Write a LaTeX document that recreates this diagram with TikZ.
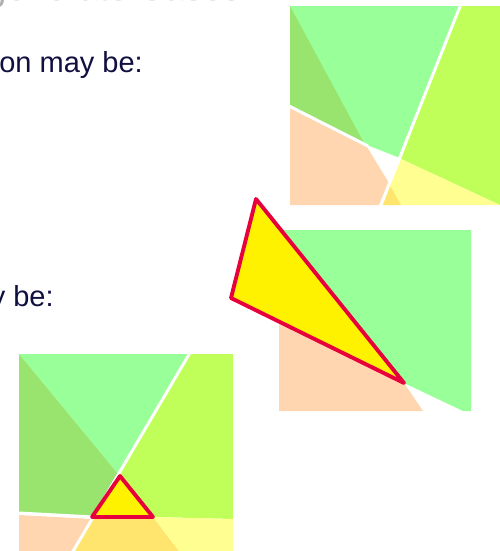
\documentclass[tikz,border=0pt]{standalone}
\definecolor{palegreen}{RGB}{153,255,153}
\definecolor{deepgreen}{RGB}{152,228,110}
\definecolor{limegreen}{RGB}{192,255,90}
\definecolor{peach}{RGB}{255,214,176}
\definecolor{paleyellow}{RGB}{255,255,145}
\definecolor{darkyellow}{RGB}{255,228,110}
\definecolor{hitred}{RGB}{230,0,60}
\definecolor{captionblue}{RGB}{16,16,64}
\definecolor{titlegray}{RGB}{175,175,175}
\usepackage{fontspec}
\setmainfont{Liberation Sans}
\usepackage{tikz}
\usetikzlibrary{positioning}

\begin{document}
\begin{tikzpicture}[x=0.02cm, y=-0.02cm,
    gap/.style={draw=white, line width=1.7pt},
    hit/.style={fill=yellow, draw=hitred, line width=2.2pt, line join=round},
    caption/.style={text=captionblue, font=\fontsize{16.5}{20}\selectfont, inner sep=0pt}]
    \useasboundingbox (0,0) rectangle (500,551);

    % Heading (cut at the top)
    \node[anchor=base east, text=titlegray, inner sep=0pt,
          font=\fontsize{20.5}{24}\selectfont] (heading) at (241,1) {Degenerate Cases};

    % Captions
    \node[caption, anchor=base west] (firstcase) at (-1,72) {on may be:};
    \node[caption, anchor=base east] (secondcase) at (54,306) {y be:};

    % Top-right cells
    \fill[limegreen] (460,6) -- (500,6) -- (500,205) -- (401,159) -- cycle;
    \fill[palegreen] (290,6) -- (461,6) -- (400,158) -- (367,145) -- (290,106) -- cycle;
    \fill[deepgreen] (290,6) -- (364,143) -- (290,106) -- cycle;
    \fill[peach] (290,108) -- (367,147) -- (389,183) -- (381,205) -- (290,205) -- cycle;
    \fill[paleyellow] (401,159) -- (500,205) -- (382,205) -- cycle;
    \fill[darkyellow] (390,186) -- (383,205) -- (401,205) -- cycle;
    \draw[gap] (461,4) -- (380,207);
    \draw[gap] (289,106) -- (368,146);

    % Middle cells with the wide triangle
    \fill[palegreen] (279,230) -- (471,230) -- (471,411) -- (463,411) -- (404,383) -- (279,320) -- cycle;
    \fill[peach] (279,320) -- (404,383) -- (423,411) -- (279,411) -- cycle;
    \filldraw[hit] (256,199) -- (231,298) -- (404,383) -- cycle;

    % Bottom-left cells with the small triangle
    \fill[palegreen] (19,354) -- (189,354) -- (118,474) -- cycle;
    \fill[deepgreen] (19,354) -- (118,474) -- (92,516) -- (19,513) -- cycle;
    \fill[limegreen] (190,354) -- (233,354) -- (233,519) -- (153,517) -- (118,474) -- cycle;
    \fill[peach] (19,515) -- (92,519) -- (74,551) -- (19,551) -- cycle;
    \fill[darkyellow] (92,518) -- (153,517) -- (179,551) -- (74,551) -- cycle;
    \fill[paleyellow] (153,517) -- (233,519) -- (233,551) -- (179,551) -- cycle;
    \draw[gap] (191,351) -- (72,553);
    \draw[gap] (19,513) -- (93,517);
    \filldraw[hit] (120,476) -- (92,517) -- (153,517) -- cycle;
\end{tikzpicture}
\end{document}
